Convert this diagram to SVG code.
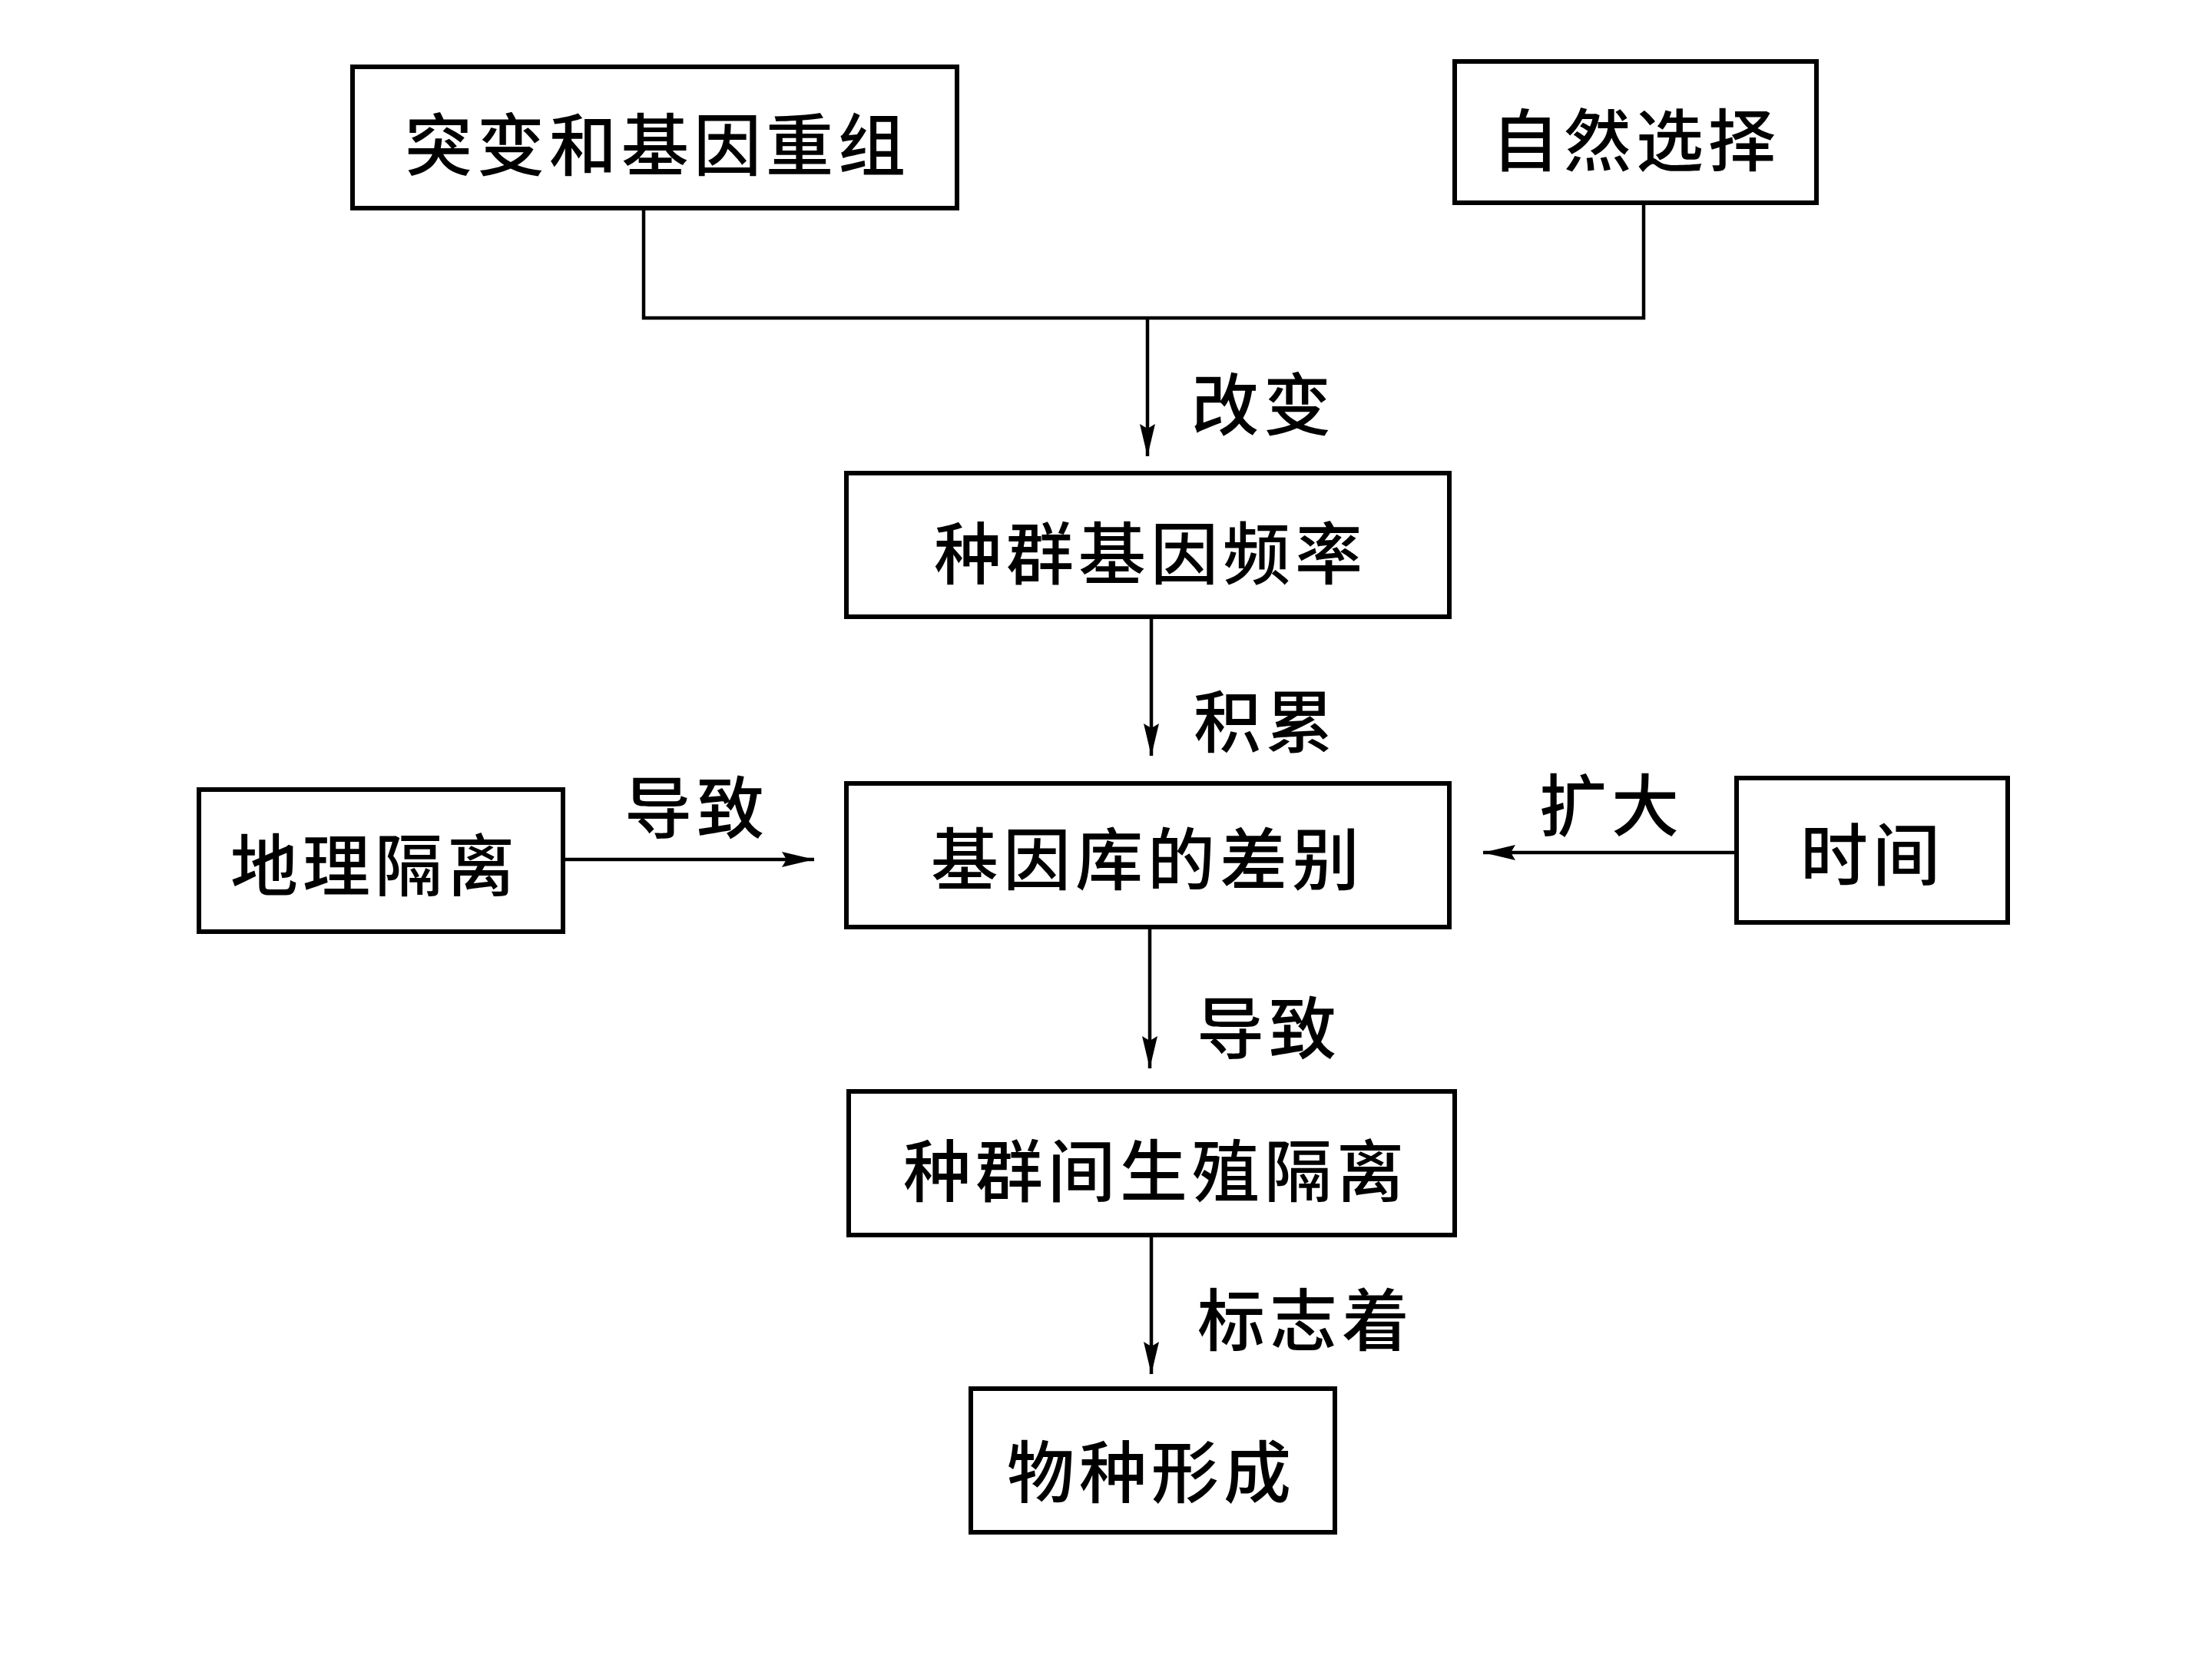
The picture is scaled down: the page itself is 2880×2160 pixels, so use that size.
<svg xmlns="http://www.w3.org/2000/svg" width="2880" height="2160" viewBox="0 0 2880 2160">
<style>
.box{fill:#fff;stroke:#000;stroke-width:6}
.t{font-family:"Noto Sans CJK SC","Noto Sans CJK JP",sans-serif;font-size:88px;font-weight:500;fill:#000;text-anchor:middle;dominant-baseline:central;letter-spacing:6px}
.ln{fill:none;stroke:#000;stroke-width:4.5}
</style>
<defs>
<marker id="ah" markerUnits="userSpaceOnUse" markerWidth="44" markerHeight="24" refX="42" refY="12" orient="auto">
<path d="M0,2 L42,12 L0,22 L6,12 Z" fill="#000"/>
</marker>
</defs>
<rect width="2880" height="2160" fill="#fff"/>
<g id="connectors">
<polyline class="ln" points="838,271 838,414 2140,414 2140,264"/>
<line class="ln" x1="1494" y1="414" x2="1494" y2="594" marker-end="url(#ah)"/>
<line class="ln" x1="1499" y1="803" x2="1499" y2="984" marker-end="url(#ah)"/>
<line class="ln" x1="733" y1="1119" x2="1060" y2="1119" marker-end="url(#ah)"/>
<line class="ln" x1="2261" y1="1110" x2="1931" y2="1110" marker-end="url(#ah)"/>
<line class="ln" x1="1497" y1="1207" x2="1497" y2="1391" marker-end="url(#ah)"/>
<line class="ln" x1="1499" y1="1608" x2="1499" y2="1789" marker-end="url(#ah)"/>
<text class="t" x="1645" y="520">改变</text>
<text class="t" x="1648" y="933">积累</text>
<text class="t" x="907" y="1045">导致</text>
<text class="t" x="2098" y="1042">扩大</text>
<text class="t" x="1652" y="1332">导致</text>
<text class="t" x="1700" y="1712">标志着</text>
</g>
<g id="n1"><rect class="box" x="459" y="87" width="787" height="184"/><text class="t" x="856" y="182">突变和基因重组</text></g>
<g id="n2"><rect class="box" x="1894" y="80" width="471" height="184"/><text class="t" x="2130" y="176">自然选择</text></g>
<g id="n3"><rect class="box" x="1102" y="616" width="785" height="187"/><text class="t" x="1498" y="714">种群基因频率</text></g>
<g id="n4"><rect class="box" x="1102" y="1020" width="785" height="187"/><text class="t" x="1494" y="1112">基因库的差别</text></g>
<g id="n5"><rect class="box" x="259" y="1028" width="474" height="185"/><text class="t" x="488" y="1120">地理隔离</text></g>
<g id="n6"><rect class="box" x="2261" y="1013" width="353" height="188"/><text class="t" x="2438" y="1106">时间</text></g>
<g id="n7"><rect class="box" x="1105" y="1421" width="789" height="187"/><text class="t" x="1505" y="1518">种群间生殖隔离</text></g>
<g id="n8"><rect class="box" x="1264" y="1808" width="474" height="187"/><text class="t" x="1499" y="1910">物种形成</text></g>
</svg>
